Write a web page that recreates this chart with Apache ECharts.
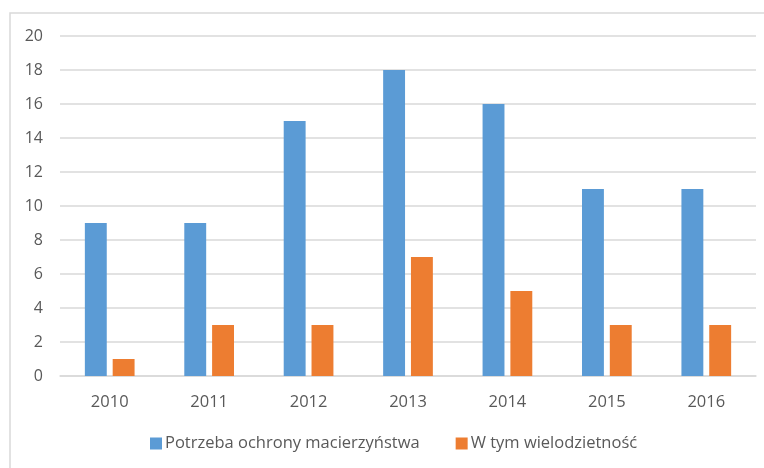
<!DOCTYPE html>
<html>
<head>
<meta charset="utf-8">
<script src="https://cdn.jsdelivr.net/npm/echarts@6/dist/echarts.min.js"></script>
<style>
  html, body { margin: 0; padding: 0; background: #fff; }
  #chart { width: 764px; height: 468px; }
</style>
</head>
<body>
<div id="chart"></div>
<script>
var years = ['2010', '2011', '2012', '2013', '2014', '2015', '2016'];
var ochrona = [9, 9, 15, 18, 16, 11, 11];
var wielodzietnosc = [1, 3, 3, 7, 5, 3, 3];

var chart = echarts.init(document.getElementById('chart'));

var option = {
    animation: false,
    textStyle: { fontFamily: 'Open Sans, Liberation Sans, sans-serif' },
    graphic: [{
        type: 'rect',
        shape: { x: 10, y: 13, width: 770, height: 470 },
        style: { fill: 'none', stroke: '#d9d9d9', lineWidth: 1.5 },
        silent: true
    }],
    grid: {
        left: 60,
        right: 8,
        top: 36,
        bottom: 92,
        containLabel: false
    },
    color: ['#5b9bd5', '#ed7d31'],
    legend: {
        bottom: 11,
        left: 145,
        itemWidth: 12,
        itemHeight: 12,
        itemGap: 36,
        icon: 'rect',
        textStyle: { fontSize: 16.5, color: '#595959', padding: [0, 0, 0, -2] },
        data: ['Potrzeba ochrony macierzyństwa', 'W tym wielodzietność']
    },
    xAxis: {
        type: 'category',
        data: years,
        axisLine: { lineStyle: { color: '#d9d9d9', width: 1.5 } },
        axisTick: { show: false },
        axisLabel: { fontSize: 16.5, color: '#595959', margin: 18 }
    },
    yAxis: {
        type: 'value',
        min: 0,
        max: 20,
        interval: 2,
        axisLine: { show: false },
        axisTick: { show: false },
        axisLabel: { fontSize: 16, color: '#595959', margin: 17 },
        splitLine: { lineStyle: { color: '#d9d9d9', width: 1.5 } }
    },
    series: [
        {
            name: 'Potrzeba ochrony macierzyństwa',
            type: 'bar',
            data: ochrona,
            barGap: '27%',
            barCategoryGap: '50%'
        },
        {
            name: 'W tym wielodzietność',
            type: 'bar',
            data: wielodzietnosc
        }
    ]
};

chart.setOption(option);
</script>
</body>
</html>
